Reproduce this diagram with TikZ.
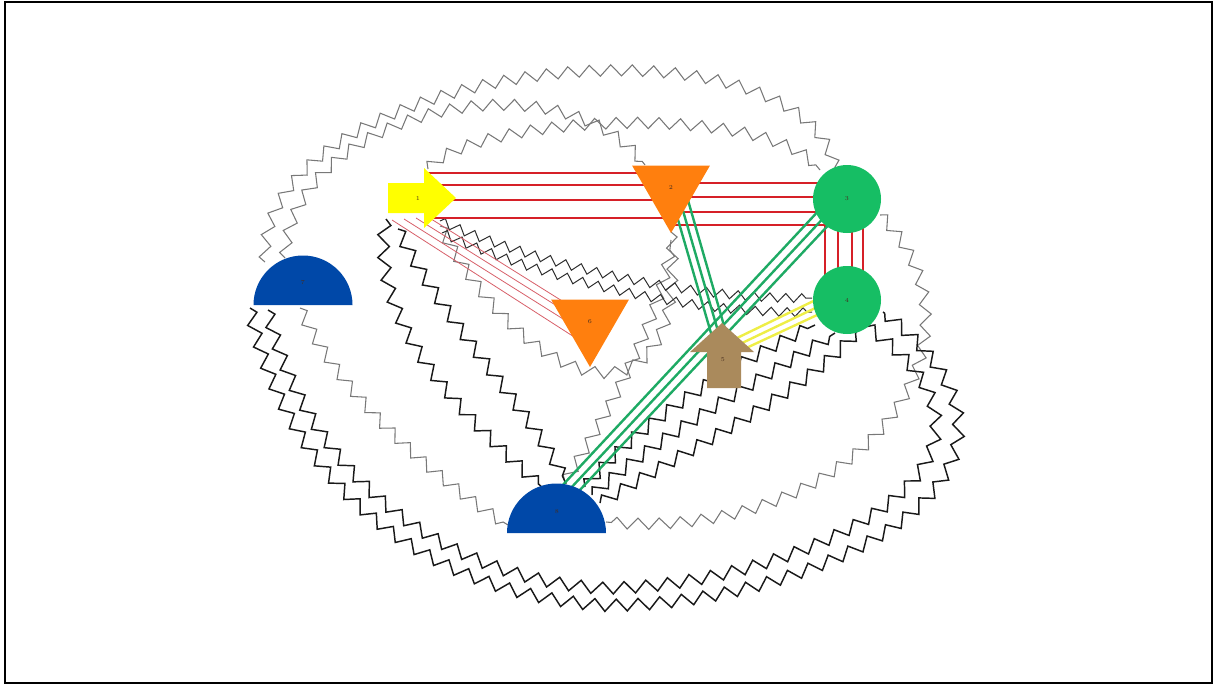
\documentclass[tikz,border=0pt]{standalone}
\usetikzlibrary{calc,decorations.pathmorphing,shapes.geometric}
\definecolor{cyel}{RGB}{255,255,0}
\definecolor{cora}{RGB}{255,127,14}
\definecolor{cgrn}{RGB}{22,190,100}
\definecolor{cbrn}{RGB}{170,138,92}
\definecolor{cblu}{RGB}{0,72,168}
\definecolor{cred}{RGB}{214,32,40}
\definecolor{cpink}{RGB}{215,95,105}
\definecolor{cgedge}{RGB}{30,170,100}
\definecolor{cyedge}{RGB}{238,238,70}
\definecolor{cgray}{RGB}{120,120,120}
\definecolor{cblk}{RGB}{25,25,25}
\definecolor{cdk}{RGB}{45,45,45}
\definecolor{clbl}{RGB}{70,45,30}
\begin{document}
\begin{tikzpicture}[x=0.75pt,y=-0.75pt,
  gz/.style={draw=cgray, line width=0.8pt, decorate, decoration={zigzag, amplitude=4.2pt, segment length=16pt}},
  bz/.style={draw=cblk, line width=1.1pt, decorate, decoration={zigzag, amplitude=4.5pt, segment length=16.5pt}},
  tz/.style={draw=cdk, line width=0.75pt, decorate, decoration={zigzag, amplitude=3.3pt, segment length=12pt}},
  redln/.style={draw=cred, line width=1.1pt},
  pinkln/.style={draw=cpink, line width=0.6pt},
  grnln/.style={draw=cgedge, line width=1.8pt},
  yelln/.style={draw=cyedge, line width=1.8pt},
  lbl/.style={inner sep=0pt, font=\fontsize{4.5}{4.5}\selectfont, text=clbl},
  circ/.style={circle, fill=cgrn, minimum size=51pt, inner sep=0pt, font=\fontsize{4.5}{4.5}\selectfont, text=clbl},
  tri/.style={regular polygon, regular polygon sides=3, shape border rotate=180, fill=cora, minimum size=67.5pt, inner sep=0pt, font=\fontsize{4.5}{4.5}\selectfont, text=clbl}
]
\useasboundingbox (0,0) rectangle (1216,685);
\draw[black, line width=0.8pt] (5,2) rectangle (1212,683);

% named centres (labels drawn later on top)
\coordinate (n1) at (418,199);
\coordinate (n2) at (671,188);
\coordinate (n3) at (847,199);
\coordinate (n4) at (847,300);
\coordinate (n5) at (723,360);
\coordinate (n6) at (590,322);
\coordinate (n7) at (303,283);
\coordinate (n8) at (557,512);

% gray zigzag edges
\draw[gz] ($(n7)+(-38,-21)$) .. controls (255,60) and (800,0) .. ($(n3)+(-12,-31)$);
\draw[gz] ($(n7)+(-18,-25)$) .. controls (290,110) and (560,50) .. ($(n2)+(-26,-23)$);
\draw[gz] ($(n1)+(10,-30)$) .. controls (470,115) and (770,100) .. ($(n3)+(-27,-29)$);
\draw[gz] ($(n3)+(33,16)$) .. controls (1005,340) and (860,545) .. ($(n8)+(49,10)$);
\draw[gz] ($(n1)+(22,27)$) .. controls (530,400) and (690,440) .. ($(n2)+(0,44)$);
\draw[gz] ($(n8)+(8,-30)$) .. controls (610,410) and (665,310) .. ($(n2)+(0,52)$);
\draw[gz] ($(n7)+(-3,25)$) .. controls (340,400) and (450,490) .. ($(n8)+(-49,13)$);

% black zigzag edges
\draw[bz] ($(n1)+(-32,20)$) .. controls (365,330) and (480,430) .. ($(n8)+(-12,-22)$);
\draw[bz] ($(n1)+(-20,30)$) .. controls (440,320) and (540,420) .. ($(n8)+(9,-28)$);
\draw[bz] ($(n7)+(-53,25)$) .. controls (280,460) and (400,590) .. (600,605)
   .. controls (800,610) and (1100,480) .. ($(n4)+(36,12)$);
\draw[bz] ($(n7)+(-35,27)$) .. controls (295,440) and (410,575) .. (600,588)
   .. controls (780,590) and (1070,470) .. ($(n4)+(19,26)$);
\draw[bz] ($(n8)+(28,-25)$) .. controls (640,420) and (740,360) .. ($(n4)+(-32,25)$);
\draw[bz] ($(n8)+(35,-17)$) .. controls (665,430) and (775,372) .. ($(n4)+(-12,33)$);
\draw[bz] ($(n8)+(43,-9)$) .. controls (695,445) and (810,390) .. ($(n4)+(11,30)$);

% thin dark zigzags 1 -> 4
\draw[tz] ($(n1)+(22,22)$) .. controls (540,265) and (690,300) .. ($(n4)+(-35,-2)$);
\draw[tz] ($(n1)+(24,34)$) .. controls (545,280) and (695,315) .. ($(n4)+(-35,12)$);

% red 1 -> 2
\foreach \dy/\ey in {-26/-15, -14/-3, 1/12, 19/30}
  \draw[redln] ($(n1)+(6,\dy)$) -- ($(n2)+(0,\ey)$);
% red 2 -> 3
\foreach \dy/\ey in {-5/-16, 9/-2, 24/13, 37/26}
  \draw[redln] ($(n2)+(0,\dy)$) -- ($(n3)+(-12,\ey)$);
% red 3 -> 4
\foreach \dx in {-22,-9,5,16}
  \draw[redln] ($(n3)+(\dx,0)$) -- ($(n4)+(\dx,0)$);
% pink 1 -> 6
\draw[pinkln] ($(n1)+(-26,21)$) -- ($(n6)+(-8,20)$);
\draw[pinkln] ($(n1)+(-14,20)$) -- ($(n6)+(-11,7)$);
\draw[pinkln] ($(n1)+(-2,19)$) -- ($(n6)+(-17,-6)$);
\draw[pinkln] ($(n1)+(10,18)$) -- ($(n6)+(-23,-18)$);
% green 2 -> 5
\draw[grnln] ($(n2)+(2,14.5)$) -- ($(n5)+(-10,-20)$);
\draw[grnln] ($(n2)+(9,12.5)$) -- ($(n5)+(-3,-22)$);
\draw[grnln] ($(n2)+(16.5,10.5)$) -- ($(n5)+(4,-24)$);
% green 3 -> 8
\draw[grnln] ($(n3)+(-24,7)$) -- ($(n8)+(3,-24)$);
\draw[grnln] ($(n3)+(-17,12)$) -- ($(n8)+(12,-22)$);
\draw[grnln] ($(n3)+(-11,18)$) -- ($(n8)+(21,-20)$);
% yellow 4 -> 5
\draw[yelln] ($(n4)+(-17,-7)$) -- ($(n5)+(14,-22)$);
\draw[yelln] ($(n4)+(-17,1)$) -- ($(n5)+(17,-16)$);
\draw[yelln] ($(n4)+(-17,9)$) -- ($(n5)+(19,-10)$);

% node shapes
\fill[cyel] (388,183) -- (424,183) -- (424,168) -- (456,198) -- (424,228) -- (424,213) -- (388,213) -- cycle;
\fill[cbrn] (707,388) -- (707,352) -- (690,352) -- (722,323) -- (754,352) -- (741,352) -- (741,388) -- cycle;
\fill[cblu] (253.5,305) arc[start angle=180, end angle=0, radius=37.125pt] -- cycle;
\fill[cblu] (507,533) arc[start angle=180, end angle=0, radius=37.125pt] -- cycle;

\node[lbl] (l1) at (n1) {1};
\node[tri] (l2) at (n2) {2};
\node[circ] (l3) at (n3) {3};
\node[circ] (l4) at (n4) {4};
\node[lbl] (l5) at (n5) {5};
\node[tri] (l6) at (n6) {6};
\node[lbl] (l7) at (n7) {7};
\node[lbl] (l8) at (n8) {8};
\end{tikzpicture}
\end{document}
